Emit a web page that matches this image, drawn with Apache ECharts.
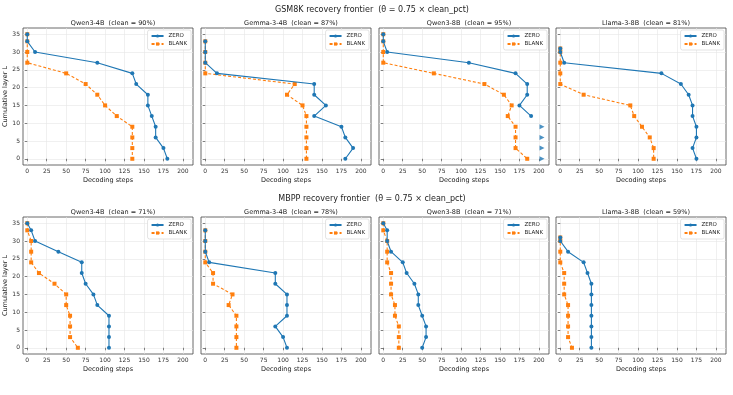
<!DOCTYPE html>
<html>
<head>
<meta charset="utf-8">
<script src="https://cdn.jsdelivr.net/npm/echarts@6/dist/echarts.min.js"></script>
<style>
    html, body { margin: 0; padding: 0; background: #fff; }
    #chart { width: 733px; height: 395px; }
</style>
</head>
<body>
<div id="chart"></div>
<script>
// tick labels
const xTicks = [0, 25, 50, 75, 100, 125, 150, 175, 200];
const yTicks = [0, 5, 10, 15, 20, 25, 30, 35];

// cumulative layers per model
const layersQwen = [35, 33, 30, 27, 24, 21, 18, 15, 12, 9, 6, 3, 0];
const layersGemma = [33, 30, 27, 24, 21, 18, 15, 12, 9, 6, 3, 0];
const layersLlama = [31, 30, 27, 24, 21, 18, 15, 12, 9, 6, 3, 0];

// GSM8K decoding steps
const gsmQwen4bZero = [0, 0, 10, 90, 135, 140, 155, 155, 160, 165, 165, 175, 180];
const gsmQwen4bBlank = [0, 0, 0, 0, 50, 75, 90, 100, 115, 135, 135, 135, 135];
const gsmGemmaZero = [0, 0, 0, 15, 140, 140, 155, 140, 175, 180, 190, 180];
const gsmGemmaBlank = [0, 0, 0, 0, 115, 105, 125, 130, 130, 130, 130, 130];
const gsmQwen8bZero = [0, 0, 5, 110, 170, 185, 185, 175, 190, null, null, null, null];
const gsmQwen8bBlank = [0, 0, 0, 0, 65, 130, 155, 165, 160, 170, 170, 170, 185];
const gsmQwen8bUnrecovered = [9, 6, 3, 0];
const gsmLlamaZero = [0, 0, 5, 130, 155, 165, 170, 170, 175, 175, 170, 175];
const gsmLlamaBlank = [0, 0, 0, 0, 0, 30, 90, 95, 105, 115, 120, 120];

// MBPP decoding steps
const mbppQwen4bZero = [0, 5, 10, 40, 70, 70, 75, 85, 90, 105, 105, 105, 105];
const mbppQwen4bBlank = [0, 0, 5, 5, 5, 15, 35, 50, 50, 55, 55, 55, 65];
const mbppGemmaZero = [0, 0, 0, 5, 90, 90, 105, 105, 105, 90, 100, 105];
const mbppGemmaBlank = [0, 0, 0, 0, 10, 10, 35, 30, 40, 40, 40, 40];
const mbppQwen8bZero = [0, 5, 5, 10, 25, 30, 40, 45, 45, 50, 55, 55, 50];
const mbppQwen8bBlank = [0, 0, 5, 5, 5, 10, 10, 10, 15, 15, 20, 20, 20];
const mbppLlamaZero = [0, 0, 10, 30, 35, 40, 40, 40, 40, 40, 40, 40];
const mbppLlamaBlank = [0, 0, 0, 0, 5, 5, 5, 10, 10, 10, 10, 15];

const offScaleStep = 204;

const panels = [
    {title: 'Qwen3-4B  (clean = 90%)', layers: layersQwen, zero: gsmQwen4bZero, blank: gsmQwen4bBlank},
    {title: 'Gemma-3-4B  (clean = 87%)', layers: layersGemma, zero: gsmGemmaZero, blank: gsmGemmaBlank},
    {title: 'Qwen3-8B  (clean = 95%)', layers: layersQwen, zero: gsmQwen8bZero, blank: gsmQwen8bBlank, unrecovered: gsmQwen8bUnrecovered},
    {title: 'Llama-3-8B  (clean = 81%)', layers: layersLlama, zero: gsmLlamaZero, blank: gsmLlamaBlank},
    {title: 'Qwen3-4B  (clean = 71%)', layers: layersQwen, zero: mbppQwen4bZero, blank: mbppQwen4bBlank},
    {title: 'Gemma-3-4B  (clean = 78%)', layers: layersGemma, zero: mbppGemmaZero, blank: mbppGemmaBlank},
    {title: 'Qwen3-8B  (clean = 71%)', layers: layersQwen, zero: mbppQwen8bZero, blank: mbppQwen8bBlank},
    {title: 'Llama-3-8B  (clean = 59%)', layers: layersLlama, zero: mbppLlamaZero, blank: mbppLlamaBlank},
];
const rowTitles = [
    'GSM8K recovery frontier  (θ = 0.75 × clean_pct)',
    'MBPP recovery frontier  (θ = 0.75 × clean_pct)',
];

const BLUE = '#1f77b4';
const ORANGE = '#ff7f0e';
const FONT = 'DejaVu Sans';

const colLeft = [23, 201, 379, 556];
const rowTop = [28, 217];
const gridW = 170;
const gridH = 137;

function pairs(xs, ys) {
    return xs.map((x, i) => (x === null ? null : [x, ys[i]])).filter((p) => p !== null);
}

const grids = [];
const xAxes = [];
const yAxes = [];
const series = [];
const titles = [];
const legends = [];

rowTitles.forEach((text, r) => {
    titles.push({
        text: text,
        left: 367,
        top: r === 0 ? 1 : 190,
        textAlign: 'center',
        textStyle: {fontFamily: FONT, fontSize: 8, fontWeight: 'normal', color: '#222'},
    });
});

panels.forEach((p, i) => {
    const row = Math.floor(i / 4);
    const col = i % 4;
    const left = colLeft[col];
    const top = rowTop[row];
    grids.push({
        left: left, top: top, width: gridW, height: gridH,
        show: true, borderColor: '#444', borderWidth: 0.8, backgroundColor: '#fff',
        outerBoundsMode: 'none', containLabel: false,
    });
    titles.push({
        text: p.title,
        left: left + gridW / 2,
        top: top - 13,
        textAlign: 'center',
        textStyle: {fontFamily: FONT, fontSize: 6.5, fontWeight: 'normal', color: '#222'},
    });
    xAxes.push({
        type: 'value', gridIndex: i, min: -5.5, max: 213,
        name: 'Decoding steps', nameLocation: 'middle', nameGap: 12,
        nameTextStyle: {fontFamily: FONT, fontSize: 6.5, color: '#222'},
        axisLine: {show: false},
        axisTick: {show: true, length: 2.5, lineStyle: {color: '#333', width: 0.6}, customValues: xTicks},
        axisLabel: {fontFamily: FONT, fontSize: 6, color: '#333', margin: 3, customValues: xTicks},
        splitLine: {show: true, lineStyle: {color: '#e6e6e6', width: 0.6}},
    });
    yAxes.push({
        type: 'value', gridIndex: i, min: -1.75, max: 36.75,
        name: col === 0 ? 'Cumulative layer L' : '', nameLocation: 'middle', nameGap: 12,
        nameTextStyle: {fontFamily: FONT, fontSize: 6.5, color: '#222'},
        axisLine: {show: false},
        axisTick: {show: true, length: 2.5, lineStyle: {color: '#333', width: 0.6}, customValues: yTicks},
        axisLabel: {show: col === 0, fontFamily: FONT, fontSize: 6, color: '#333', margin: 3, customValues: yTicks},
        splitLine: {show: true, lineStyle: {color: '#e6e6e6', width: 0.6}},
    });
    series.push({
        name: 'ZERO', type: 'line', xAxisIndex: i, yAxisIndex: i,
        data: pairs(p.zero, p.layers),
        color: BLUE, symbol: 'circle', symbolSize: 4,
        lineStyle: {width: 1.1, color: BLUE}, itemStyle: {color: BLUE},
        animation: false, z: 3,
    });
    series.push({
        name: 'BLANK', type: 'line', xAxisIndex: i, yAxisIndex: i,
        data: pairs(p.blank, p.layers),
        color: ORANGE, symbol: 'rect', symbolSize: 4,
        lineStyle: {width: 1.1, color: ORANGE, type: [3, 2]}, itemStyle: {color: ORANGE},
        animation: false, z: 2,
    });
    if (p.unrecovered) {
        series.push({
            name: 'unrecovered', type: 'scatter', xAxisIndex: i, yAxisIndex: i,
            data: p.unrecovered.map((l) => [offScaleStep, l]),
            symbol: 'triangle', symbolRotate: -90, symbolSize: 5,
            itemStyle: {color: BLUE}, animation: false,
        });
    }
    legends.push({
        data: ['ZERO', 'BLANK'],
        orient: 'vertical',
        right: 733 - (left + gridW) + 2,
        top: top + 2,
        itemWidth: 12, itemHeight: 4, itemGap: 2,
        padding: [3, 4, 3, 3],
        backgroundColor: '#fff', borderColor: '#d0d0d0', borderWidth: 0.6, borderRadius: 2,
        textStyle: {fontFamily: FONT, fontSize: 5.5, color: '#222'},
        selectedMode: false,
    });
});

const chart = echarts.init(document.getElementById('chart'), null, {renderer: 'canvas'});
chart.setOption({
    backgroundColor: '#fff',
    animation: false,
    title: titles,
    legend: legends,
    grid: grids,
    xAxis: xAxes,
    yAxis: yAxes,
    series: series,
});
</script>
</body>
</html>
